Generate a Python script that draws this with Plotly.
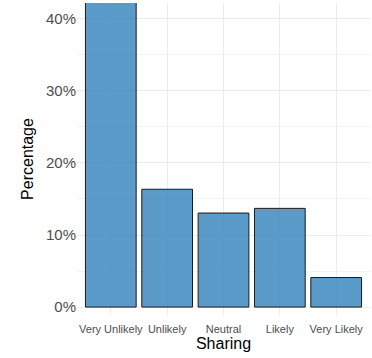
import plotly.graph_objects as go

categories = ["Very Unlikely", "Unlikely", "Neutral", "Likely", "Very Likely"]
percentages = [52.8, 16.35, 13.05, 13.7, 4.1]
y_ticks = [0, 10, 20, 30, 40]
y_tick_labels = ["0%", "10%", "20%", "30%", "40%"]

fig = go.Figure()
fig.add_trace(go.Bar(
    x=categories,
    y=percentages,
    width=0.9,
    marker=dict(color="rgba(49,130,189,0.8)", line=dict(color="#1a1a1a", width=1)),
))

fig.update_layout(
    width=372, height=358,
    margin=dict(l=77, r=2, t=3, b=43, autoexpand=False),
    plot_bgcolor="white", paper_bgcolor="white",
    font=dict(family="Liberation Sans, Arial, sans-serif", color="black"),
    showlegend=False,
    bargap=0.1,
)
fig.update_xaxes(
    range=[-0.6, 4.6],
    showgrid=True, gridcolor="#ebebeb", gridwidth=1,
    tickfont=dict(size=11, color="#4d4d4d"),
    ticklabelstandoff=6,
    title=dict(text="Sharing", font=dict(size=16, color="black"), standoff=2),
    ticks="", zeroline=False, showline=False, automargin=False,
)
fig.update_yaxes(
    range=[-1.1, 42.2],
    tickmode="array", tickvals=y_ticks, ticktext=y_tick_labels,
    showgrid=True, gridcolor="#ebebeb", gridwidth=1,
    minor=dict(dtick=5, tick0=0, showgrid=True, gridcolor="#f3f3f3", gridwidth=0.6),
    tickfont=dict(size=15, color="#4d4d4d"),
    title=dict(text="Percentage", font=dict(size=16, color="black"), standoff=8),
    ticks="", zeroline=False, showline=False, automargin=False,
)

fig.write_html("out.html", config={"displayModeBar": False})
with open("out.html", "r", encoding="utf-8") as f:
    html = f.read()
html = html.replace("<head>", "<head><style>html,body{margin:0;padding:0;overflow:hidden;}</style>", 1)
with open("out.html", "w", encoding="utf-8") as f:
    f.write(html)
